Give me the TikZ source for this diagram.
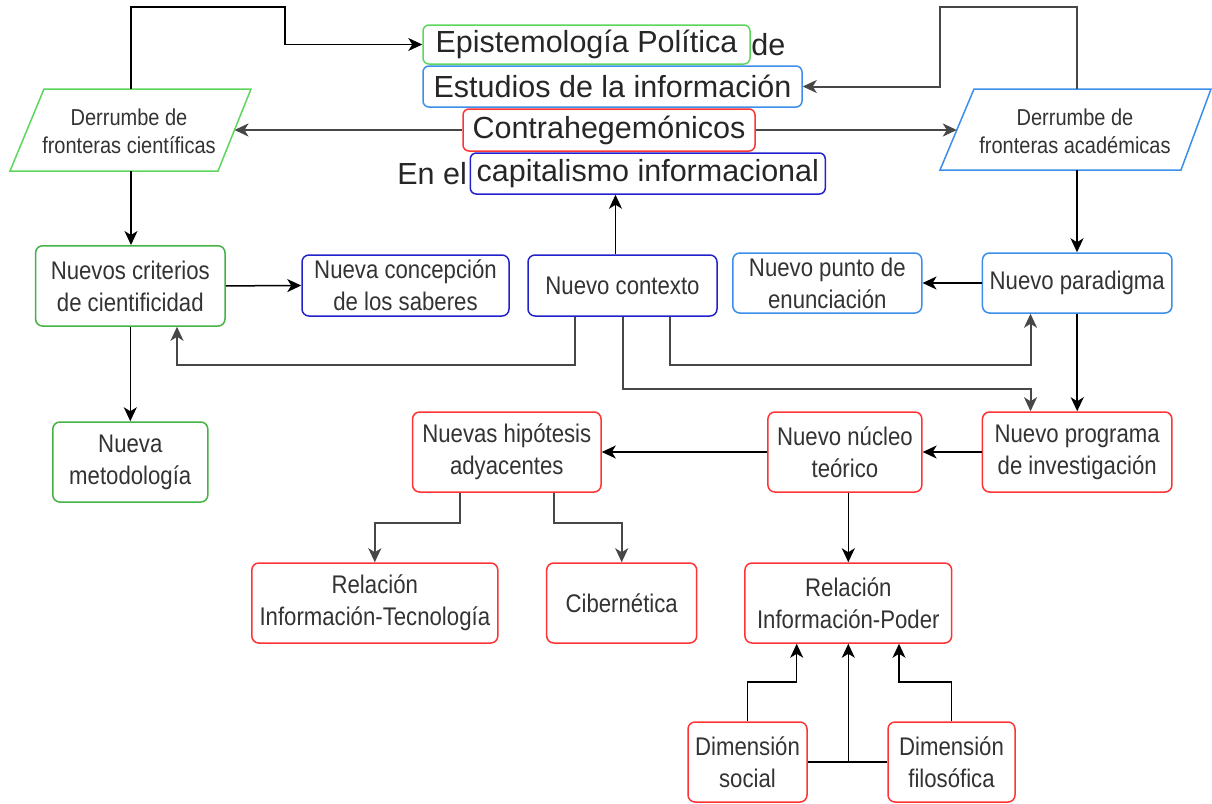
\documentclass[tikz,border=0pt]{standalone}
\usepackage{fontspec}
\setmainfont{Liberation Sans}
\newfontfamily\bfnt{Liberation Sans}[FakeStretch=0.87]
\usetikzlibrary{arrows.meta}
\definecolor{cgreen}{HTML}{44B244}
\definecolor{pgreen}{HTML}{5CD65C}
\definecolor{lblue}{HTML}{3B8EEA}
\definecolor{dblue}{HTML}{2222CC}
\definecolor{cred}{HTML}{FF3333}
\definecolor{txt}{HTML}{333333}
\begin{document}
\begin{tikzpicture}[x=1pt,y=-1pt,
  box/.style={draw, rounded corners=7pt, line width=1.5pt, fill=white, text=txt, align=center,
    font=\bfnt\fontsize{25.5}{32}\selectfont, inner sep=0pt},
  tbox/.style={draw, rounded corners=6pt, line width=1.5pt, text=black!85, inner sep=0pt,
    font=\fontsize{30.5}{36}\selectfont},
  ttext/.style={text=black!85, inner sep=0.5pt, font=\fontsize{30.5}{36}\selectfont},
  ptext/.style={text=txt, align=center, inner sep=0pt, font=\bfnt\fontsize{23}{28}\selectfont},
  arr/.style={-{Stealth[length=14pt,width=13pt,inset=4pt]}, line width=1.5pt, draw=black},
  garr/.style={arr, draw=black!72, line width=2pt}]
\useasboundingbox (0,0) rectangle (1212,803);

% title
\node[tbox, draw=pgreen, minimum width=327pt, minimum height=39pt] (epi) at (586.5,44.5) {Epistemología Política};
\node[ttext, anchor=west] (de) at (epi.east) {de};
\node[tbox, draw=lblue, minimum width=379pt, minimum height=41pt] (est) at (612.5,86.5) {Estudios de la información};
\node[tbox, draw=cred, minimum width=292pt, minimum height=42pt] (contra) at (609,130) {Contrahegemónicos};
\node[tbox, draw=dblue, minimum width=355pt, minimum height=41pt] (cap) at (647.8,173.5) {capitalismo informacional};
\node[ttext, anchor=east] (enel) at ([xshift=-2pt]cap.west) {En el};

% parallelograms
\draw[draw=pgreen, line width=1.5pt, fill=white] (44,89) -- (251,89) -- (218,171) -- (10,171) -- cycle;
\node[ptext] (pl) at (129,131) {Derrumbe de\\fronteras científicas};
\coordinate (plt) at (131,89);
\coordinate (plb) at (131,171);
\coordinate (plr) at (234.5,130);
\draw[draw=lblue, line width=1.5pt, fill=white] (974,89) -- (1211,89) -- (1181,170) -- (940,170) -- cycle;
\node[ptext] (pr) at (1075,131) {Derrumbe de\\fronteras académicas};
\coordinate (prt) at (1077,89);
\coordinate (prb) at (1077,170);
\coordinate (prr) at (956.8,130);

% boxes
\node[box, draw=cgreen, minimum width=189.4pt, minimum height=80.3pt] (crit) at (130.3,285.9) {Nuevos criterios\\de cientificidad};
\node[box, draw=dblue, minimum width=207pt, minimum height=61pt] (conc) at (405.5,285.5) {Nueva concepción\\de los saberes};
\node[box, draw=dblue, minimum width=189pt, minimum height=61pt] (ctx) at (622.5,285.5) {Nuevo contexto};
\node[box, draw=lblue, minimum width=189pt, minimum height=60pt] (punto) at (827.3,283) {Nuevo punto de\\enunciación};
\node[box, draw=lblue, minimum width=189.5pt, minimum height=60pt] (parad) at (1077.2,283) {Nuevo paradigma};
\node[box, draw=cgreen, minimum width=155pt, minimum height=80pt] (metod) at (130.3,462) {Nueva\\metodología};
\node[box, draw=cred, minimum width=188.5pt, minimum height=80pt] (hip) at (506.8,452) {Nuevas hipótesis\\adyacentes};
\node[box, draw=cred, minimum width=154pt, minimum height=80pt] (nucleo) at (844.9,452) {Nuevo núcleo\\teórico};
\node[box, draw=cred, minimum width=189.5pt, minimum height=80pt] (prog) at (1077.2,452) {Nuevo programa\\de investigación};
\node[box, draw=cred, minimum width=246pt, minimum height=80pt] (relT) at (374.8,603) {Relación\\Información-Tecnología};
\node[box, draw=cred, minimum width=150pt, minimum height=80pt] (ciber) at (621.7,603) {Cibernética};
\node[box, draw=cred, minimum width=206.7pt, minimum height=80pt] (relP) at (848.3,603) {Relación\\Información-Poder};
\node[box, draw=cred, minimum width=119pt, minimum height=80pt] (dsoc) at (747.5,762) {Dimensión\\social};
\node[box, draw=cred, minimum width=127pt, minimum height=80pt] (dfil) at (951.5,762) {Dimensión\\filosófica};

% connectors
\draw[arr] (plt) |- (285,7) |- (epi.west);
\draw[garr] (prt) |- (940,7) |- (est.east);
\draw[garr] (contra.west) -- (plr);
\draw[garr] (contra.east) -- (prr);
\draw[arr] (plb) -- (plb |- crit.north);
\draw[arr] (prb) -- (prb |- parad.north);
\draw[arr] (crit.east) -- (conc.west);
\draw[arr] ([xshift=-7pt]ctx.north) -- ([xshift=-7pt]ctx.north |- cap.south);
\draw[arr] (parad.west) -- (punto.east);
\draw[garr] ([xshift=-47.5pt]ctx.south) |- (177,365) -- ([xshift=46.7pt]crit.south);
\draw[garr] ([xshift=47.5pt]ctx.south) |- (1030.5,365) -- ([xshift=-46.7pt]parad.south);
\draw[garr] (ctx.south) |- (1030.5,389) -- ([xshift=-46.7pt]prog.north);
\draw[arr] (parad.south) -- (prog.north);
\draw[arr] (crit.south) -- (metod.north);
\draw[arr] (prog.west) -- (nucleo.east);
\draw[arr] (nucleo.west) -- (hip.east);
\draw[garr] ([xshift=-47pt]hip.south) |- (374.8,523) -- (relT.north);
\draw[garr] ([xshift=47pt]hip.south) |- (621.7,523) -- (ciber.north);
\draw[arr] (relP.north |- nucleo.south) -- (relP.north);
\draw[arr] (dsoc.north) |- (796.7,682) -- ([xshift=-51.6pt]relP.south);
\draw[arr] (dfil.north) |- (899,682) -- ([xshift=50.7pt]relP.south);
\draw[line width=1.5pt] (dsoc.east) -- (dfil.west);
\draw[arr] (relP.south |- dsoc.east) -- (relP.south);
\end{tikzpicture}
\end{document}
